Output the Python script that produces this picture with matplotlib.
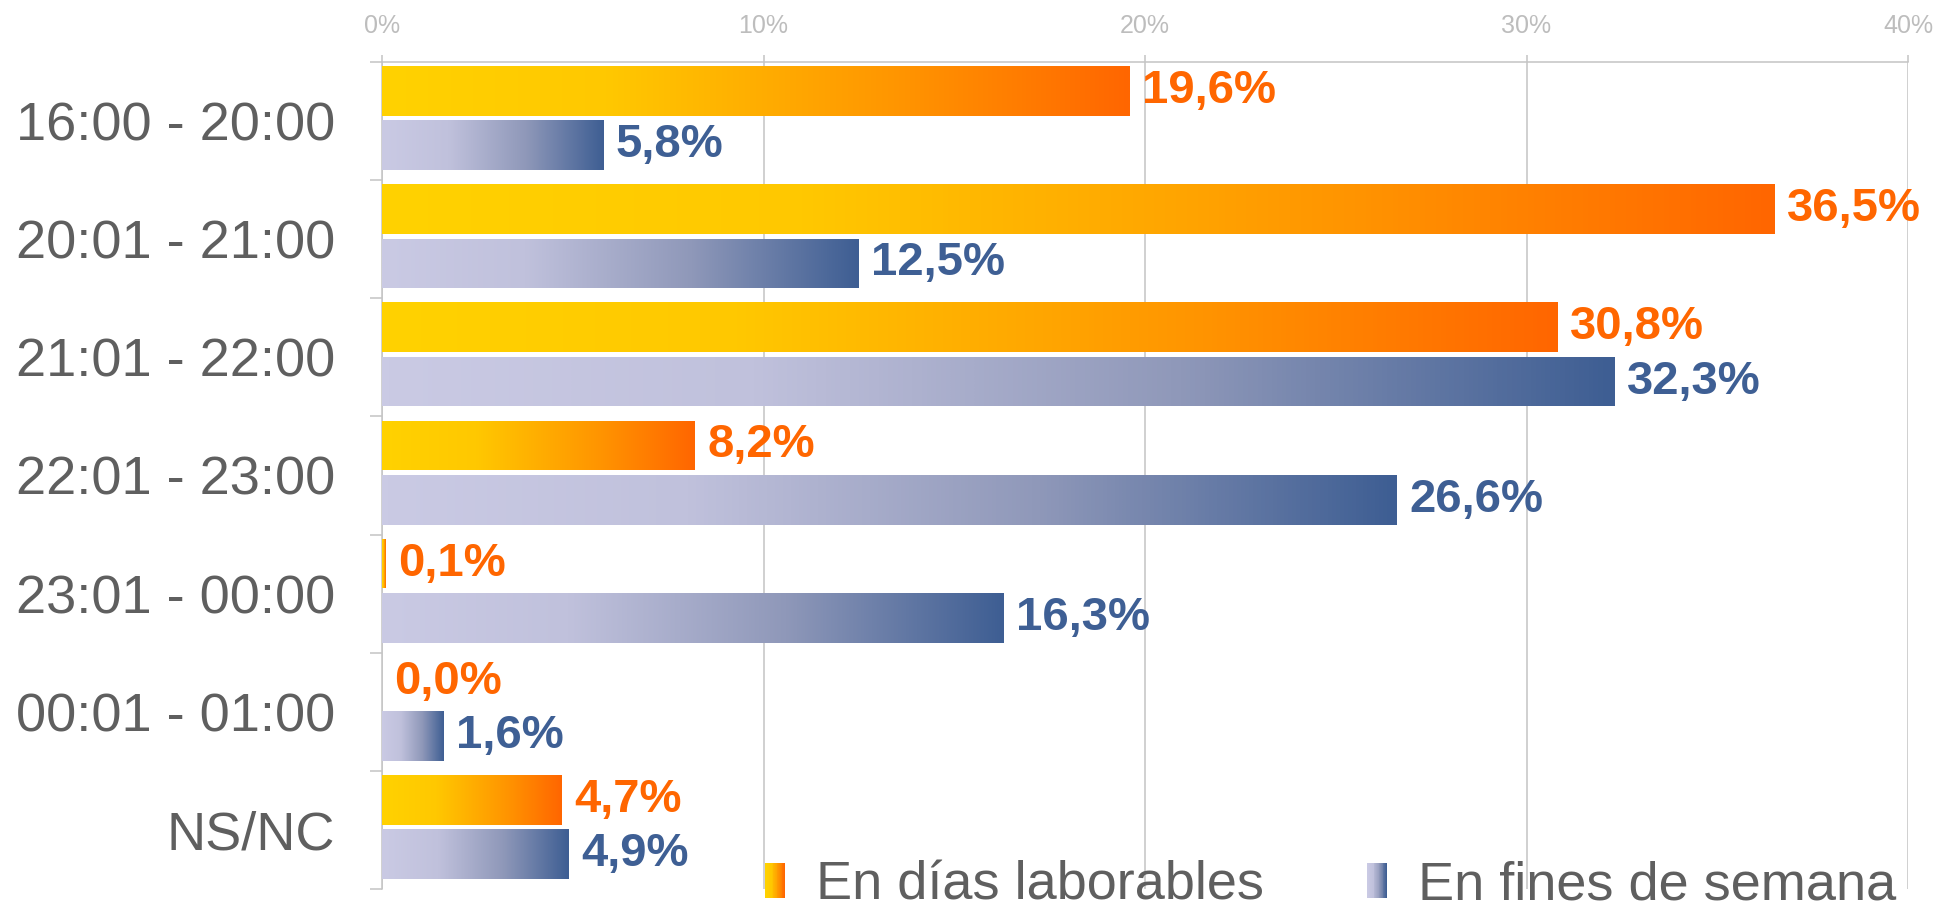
import matplotlib
matplotlib.use("Agg")
import numpy as np
import matplotlib.pyplot as plt
from matplotlib.colors import LinearSegmentedColormap
from matplotlib.legend_handler import HandlerBase
from matplotlib.patches import Rectangle

franjas = ['16:00 - 20:00', '20:01 - 21:00', '21:01 - 22:00', '22:01 - 23:00',
           '23:01 - 00:00', '00:01 - 01:00', 'NS/NC']
laborables = [19.6, 36.5, 30.8, 8.2, 0.1, 0.0, 4.7]
fines_semana = [5.8, 12.5, 32.3, 26.6, 16.3, 1.6, 4.9]
series_names = ['En días laborables', 'En fines de semana']
x_ticks = [0, 10, 20, 30, 40]

GRAY_TXT = '#5f5f5f'
GRID = '#c4c4c4'
ORANGE_TXT = '#ff6600'
BLUE_TXT = '#3e5f94'

cmap_orange = LinearSegmentedColormap.from_list(
    'naranja', [(0, '#ffd200'), (0.3, '#ffc800'), (0.7, '#ff9400'), (1, '#ff6600')])
cmap_blue = LinearSegmentedColormap.from_list(
    'azul', [(0, '#cacae4'), (0.3, '#c0c1dc'), (0.65, '#8f98b9'), (1, '#3e5e93')])

plt.rcParams['font.family'] = ['Liberation Sans', 'DejaVu Sans']


class GradientHandler(HandlerBase):
    # cuadradito de leyenda con degradado
    def __init__(self, cmap, n=24):
        super().__init__()
        self.cmap = cmap
        self.n = n

    def create_artists(self, legend, orig_handle, xdescent, ydescent, width, height, fontsize, trans):
        arts = []
        w = width / self.n
        for k in range(self.n):
            r = Rectangle((-xdescent + k * w, -ydescent), w * 1.05, height,
                          facecolor=self.cmap(k / (self.n - 1)), edgecolor='none', transform=trans)
            arts.append(r)
        return arts


def gradient_bars(ax, bars, cmap):
    grad = np.linspace(0, 1, 256).reshape(1, -1)
    for b in bars:
        w = b.get_width()
        if w <= 0:
            continue
        x0, y0, h = b.get_x(), b.get_y(), b.get_height()
        im = ax.imshow(grad, cmap=cmap, aspect='auto', extent=[x0, x0 + w, y0 + h, y0],
                       interpolation='bilinear', zorder=3)
        im.set_clip_path(b)
        b.set_facecolor('none')


fig, ax = plt.subplots(figsize=(19.47, 9.16), dpi=100)
fig.subplots_adjust(left=0.1962, right=0.980, top=0.9323, bottom=0.0295)

idx = np.arange(len(franjas))
bh = 0.42
b1 = ax.barh(idx - 0.255, laborables, height=bh, color=cmap_orange(0.6), edgecolor='none', zorder=3)
b2 = ax.barh(idx + 0.205, fines_semana, height=bh, color=cmap_blue(0.6), edgecolor='none', zorder=3)
gradient_bars(ax, b1, cmap_orange)
gradient_bars(ax, b2, cmap_blue)

for bars, vals, col in [(b1, laborables, ORANGE_TXT), (b2, fines_semana, BLUE_TXT)]:
    for b, v in zip(bars, vals):
        ax.annotate(f'{v:.1f}%'.replace('.', ','), (b.get_width(), b.get_y() + b.get_height() / 2),
                    xytext=(9, 0), textcoords='offset points', va='center', ha='left',
                    fontsize=34, fontweight='bold', color=col, zorder=5)

ax.set_xlim(0, 40)
ax.set_ylim(len(franjas) - 0.5, -0.5)
ax.set_xticks(x_ticks)
ax.set_xticklabels([f'{t}%' for t in x_ticks])
ax.xaxis.tick_top()
ax.tick_params(axis='x', colors=GRID, labelcolor='#bdbdbd', labelsize=18, length=5, width=1.1, pad=12)
ax.grid(axis='x', color=GRID, linewidth=1.1, zorder=0)

ax.set_yticks(idx)
ax.set_yticklabels(franjas)
ax.set_yticks(np.arange(len(franjas) + 1) - 0.5, minor=True)
ax.tick_params(axis='y', which='major', length=0, labelsize=39, labelcolor=GRAY_TXT, pad=34)
ax.tick_params(axis='y', which='minor', length=9, width=1.1, color=GRID)

for s in ['right', 'bottom']:
    ax.spines[s].set_visible(False)
for s in ['left', 'top']:
    ax.spines[s].set_color(GRID)
    ax.spines[s].set_linewidth(1.1)

handles = [Rectangle((0, 0), 1, 1), Rectangle((0, 0), 1, 1)]
leg = fig.legend(handles, series_names, loc='lower right', bbox_to_anchor=(0.999, -0.047),
                 ncol=2, frameon=False, fontsize=39, labelcolor=GRAY_TXT,
                 handlelength=0.36, handleheight=0.62, handletextpad=0.58, columnspacing=1.9,
                 handler_map={handles[0]: GradientHandler(cmap_orange), handles[1]: GradientHandler(cmap_blue)})

fig.savefig('out.png', dpi=100, facecolor='white')
